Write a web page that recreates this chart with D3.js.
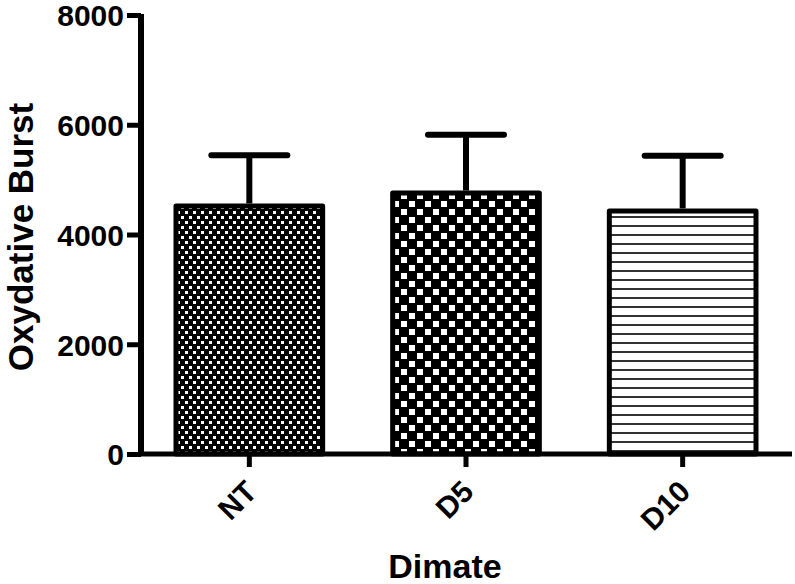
<!DOCTYPE html>
<html><head><meta charset="utf-8">
<script src="https://cdn.jsdelivr.net/npm/d3@7"></script>
<style>body{margin:0;background:#fff}svg{display:block}</style>
</head><body>
<svg id="c" width="795" height="584"></svg>
<script>
const categories = ["NT", "D5", "D10"];
const means = [4520, 4755, 4430];
const errors = [925, 1065, 1005];
const yTicks = [0, 2000, 4000, 6000, 8000];
const patterns = ["pDots", "pChecker", "pLines"];

const svg = d3.select("#c");
const defs = svg.append("defs");
// fine dots
const p1 = defs.append("pattern").attr("id","pDots").attr("patternUnits","userSpaceOnUse").attr("width",8).attr("height",10);
p1.append("rect").attr("width",8).attr("height",10).attr("fill","#000");
p1.append("rect").attr("x",1).attr("y",1).attr("width",3).attr("height",3).attr("fill","#fff");
p1.append("rect").attr("x",5).attr("y",6).attr("width",3).attr("height",3).attr("fill","#fff");
// checker
const p2 = defs.append("pattern").attr("id","pChecker").attr("patternUnits","userSpaceOnUse").attr("width",16).attr("height",16);
p2.append("rect").attr("width",16).attr("height",16).attr("fill","#000");
p2.append("rect").attr("x",1).attr("y",1).attr("width",6).attr("height",6).attr("fill","#fff");
p2.append("rect").attr("x",9).attr("y",9).attr("width",6).attr("height",6).attr("fill","#fff");
// horizontal lines
const p3 = defs.append("pattern").attr("id","pLines").attr("patternUnits","userSpaceOnUse").attr("width",9).attr("height",9);
p3.append("rect").attr("width",9).attr("height",9).attr("fill","#fff");
p3.append("rect").attr("y",0).attr("width",9).attr("height",2).attr("fill","#333");

const x0 = 141, y0 = 454;
const x = d3.scaleBand().domain(categories).range([x0, 791]).paddingInner(0.3).paddingOuter(0.15);
const y = d3.scaleLinear().domain([0, 8000]).range([y0, 15]);

const font = "'Liberation Sans', Arial, sans-serif";
const sw = 5;

// bars
categories.forEach((c, i) => {
  const bx = x(c), bw = x.bandwidth();
  svg.append("rect")
    .attr("x", bx + sw/2).attr("y", y(means[i]))
    .attr("width", bw - sw).attr("height", y(0) - y(means[i]))
    .attr("fill", `url(#${patterns[i]})`)
    .attr("stroke", "#000").attr("stroke-width", sw).attr("stroke-linejoin","round");
  const cx = bx + bw/2;
  const top = y(means[i] + errors[i]);
  svg.append("line").attr("x1", cx).attr("x2", cx).attr("y1", y(means[i]) - sw/2).attr("y2", top)
    .attr("stroke","#000").attr("stroke-width",6);
  svg.append("line").attr("x1", cx - 38).attr("x2", cx + 38).attr("y1", top).attr("y2", top)
    .attr("stroke","#000").attr("stroke-width",6).attr("stroke-linecap","round");
});

// y axis
const ya = svg.append("g").attr("transform", `translate(${x0},0)`)
  .call(d3.axisLeft(y).tickValues(yTicks).tickSize(14).tickPadding(3).tickFormat(d3.format("d")));
ya.select(".domain").attr("stroke","#000").attr("stroke-width",6).attr("d", `M0,${y(8000)-1}V${y0+1}`);
ya.selectAll(".tick line").attr("stroke","#000").attr("stroke-width",5);
ya.selectAll(".tick text").attr("font-family", font).attr("font-weight","bold").attr("font-size",30).attr("fill","#000").attr("dy","0.36em");

// x axis
const xa = svg.append("g").attr("transform", `translate(0,${y0})`)
  .call(d3.axisBottom(x).tickSize(13).tickPadding(6));
xa.select(".domain").attr("stroke","#000").attr("stroke-width",5).attr("d", `M${x0},0H792`);
xa.selectAll(".tick line").attr("stroke","#000").attr("stroke-width",5);
xa.selectAll(".tick text").attr("font-family", font).attr("font-weight","bold").attr("font-size",30).attr("fill","#000")
  .attr("text-anchor","end").attr("x",0).attr("y",0).attr("dy","0.35em")
  .attr("transform","translate(2,32) rotate(-45)");

// titles
svg.append("text").attr("x", 445).attr("y", 578).attr("text-anchor","middle")
  .attr("font-family", font).attr("font-weight","bold").attr("font-size",34).text("Dimate");
svg.append("text").attr("transform","translate(33,237) rotate(-90)").attr("text-anchor","middle")
  .attr("font-family", font).attr("font-weight","bold").attr("font-size",35).text("Oxydative Burst");
</script>
</body></html>
